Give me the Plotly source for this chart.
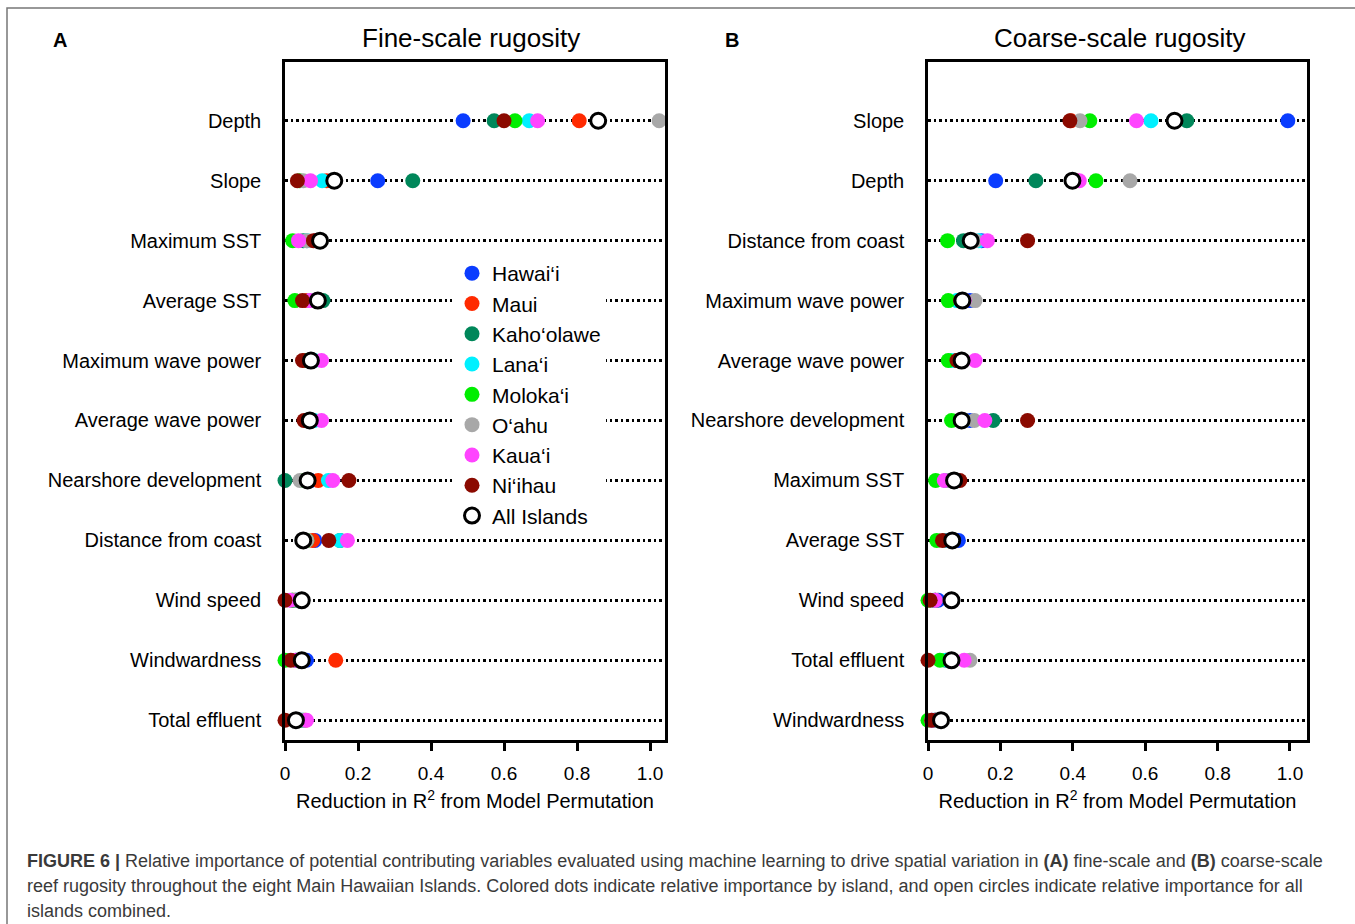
import plotly.graph_objects as go

islands = ["Hawai‘i", "Maui", "Kaho‘olawe", "Lana‘i", "Moloka‘i", "O‘ahu", "Kaua‘i", "Ni‘ihau", "All Islands"]
colors = ["#0a3cff", "#ff2a00", "#00875a", "#00f0ff", "#00ee00", "#a8a8a8", "#ff44ff", "#8b0a00", "#000000"]

fine_vars = ["Depth", "Slope", "Maximum SST", "Average SST", "Maximum wave power",
             "Average wave power", "Nearshore development", "Distance from coast",
             "Wind speed", "Windwardness", "Total effluent"]
fine_hawaii    = [0.488, 0.254, 0.085, 0.080, 0.060, 0.065, 0.070, 0.082, 0.030, 0.059, 0.045]
fine_maui      = [0.806, 0.114, 0.085, 0.060, 0.055, 0.060, 0.091, 0.076, 0.025, 0.139, 0.055]
fine_kahoolawe = [0.573, 0.350, 0.050, 0.104, 0.060, 0.060, 0.000, 0.151, 0.020, 0.030, 0.040]
fine_lanai     = [0.669, 0.102, 0.060, 0.070, 0.080, 0.080, 0.119, 0.150, 0.030, 0.040, 0.050]
fine_molokai   = [0.630, 0.040, 0.021, 0.027, 0.065, 0.070, 0.050, 0.060, 0.020, 0.000, 0.040]
fine_oahu      = [1.025, 0.050, 0.060, 0.070, 0.070, 0.070, 0.041, 0.060, 0.030, 0.040, 0.050]
fine_kauai     = [0.692, 0.070, 0.037, 0.068, 0.100, 0.100, 0.131, 0.171, 0.014, 0.030, 0.059]
fine_niihau    = [0.600, 0.034, 0.078, 0.048, 0.048, 0.052, 0.175, 0.120, 0.000, 0.016, 0.000]
fine_all       = [0.858, 0.135, 0.096, 0.090, 0.071, 0.068, 0.062, 0.050, 0.046, 0.046, 0.030]

coarse_vars = ["Slope", "Depth", "Distance from coast", "Maximum wave power",
               "Average wave power", "Nearshore development", "Maximum SST",
               "Average SST", "Wind speed", "Total effluent", "Windwardness"]
coarse_hawaii    = [0.994, 0.187, 0.148, 0.116, 0.080, 0.116, 0.060, 0.084, 0.028, 0.060, 0.020]
coarse_maui      = [0.395, 0.410, 0.120, 0.090, 0.080, 0.100, 0.060, 0.050, 0.020, 0.050, 0.020]
coarse_kahoolawe = [0.715, 0.298, 0.098, 0.090, 0.080, 0.180, 0.050, 0.060, 0.020, 0.060, 0.020]
coarse_lanai     = [0.616, 0.405, 0.140, 0.080, 0.065, 0.100, 0.050, 0.050, 0.015, 0.050, 0.015]
coarse_molokai   = [0.447, 0.464, 0.054, 0.056, 0.056, 0.065, 0.021, 0.024, 0.000, 0.033, 0.000]
coarse_oahu      = [0.420, 0.558, 0.130, 0.130, 0.090, 0.128, 0.055, 0.060, 0.020, 0.116, 0.020]
coarse_kauai     = [0.576, 0.418, 0.164, 0.100, 0.130, 0.157, 0.045, 0.060, 0.020, 0.100, 0.010]
coarse_niihau    = [0.392, 0.400, 0.275, 0.090, 0.080, 0.275, 0.088, 0.040, 0.006, 0.000, 0.010]
coarse_all       = [0.681, 0.399, 0.118, 0.095, 0.093, 0.093, 0.072, 0.067, 0.065, 0.065, 0.036]

tick_vals = [0, 0.2, 0.4, 0.6, 0.8, 1.0]
tick_text = ["0", "0.2", "0.4", "0.6", "0.8", "1.0"]

fine_series = [fine_hawaii, fine_maui, fine_kahoolawe, fine_lanai, fine_molokai,
               fine_oahu, fine_kauai, fine_niihau, fine_all]
coarse_series = [coarse_hawaii, coarse_maui, coarse_kahoolawe, coarse_lanai, coarse_molokai,
                 coarse_oahu, coarse_kauai, coarse_niihau, coarse_all]

FONT = "Liberation Sans, Arial, Helvetica, sans-serif"
W, H = 1355, 924

fig = go.Figure()

def add_panel(series, cats, xa, ya, showleg):
    for name, col, vals in zip(islands, colors, series):
        if name == "All Islands":
            marker = dict(size=15, color="white", line=dict(color="black", width=3))
        else:
            marker = dict(size=15, color=col, line=dict(width=0))
        fig.add_trace(go.Scatter(
            x=vals, y=cats, mode="markers", name=name, marker=marker,
            xaxis=xa, yaxis=ya, showlegend=showleg, cliponaxis=False))

add_panel(fine_series, fine_vars, "x", "y", True)
add_panel(coarse_series, coarse_vars, "x2", "y2", False)

def px_x(p):
    return p / W

def px_y(p):
    return 1 - p / H

ydom = [px_y(740), px_y(62)]

xcommon = dict(showline=True, mirror=True, linecolor="black", linewidth=2.5,
               ticks="outside", ticklen=8, tickwidth=2.5, tickcolor="black",
               tickvals=tick_vals, ticktext=tick_text, showgrid=False, zeroline=False,
               ticklabelstandoff=6,
               tickfont=dict(size=19, color="black", family=FONT),
               title=dict(text="Reduction in R<sup>2</sup> from Model Permutation",
                          font=dict(size=20, color="black", family=FONT), standoff=12))
ycommon = dict(type="category", showline=True, mirror=True, linecolor="black", linewidth=2.5,
               ticks="", showgrid=True, gridcolor="black", gridwidth=2.5,
               griddash="2.5px,3px", zeroline=False, range=[10.33, -0.98],
               ticklabelstandoff=17,
               tickfont=dict(size=20, color="black", family=FONT))

fig.update_layout(
    width=W, height=H,
    margin=dict(l=0, r=0, t=0, b=0, autoexpand=False),
    paper_bgcolor="white", plot_bgcolor="white",
    font=dict(family=FONT, color="black"),
    xaxis=dict(domain=[px_x(285), px_x(665)], range=[0, 1.041], anchor="y", **xcommon),
    yaxis=dict(domain=ydom, anchor="x", categoryorder="array", categoryarray=fine_vars, **ycommon),
    xaxis2=dict(domain=[px_x(928), px_x(1307)], range=[0, 1.047], anchor="y2", **xcommon),
    yaxis2=dict(domain=ydom, anchor="x2", categoryorder="array", categoryarray=coarse_vars, **ycommon),
    legend=dict(x=px_x(452), y=px_y(253), xanchor="left", yanchor="top",
                bgcolor="white", borderwidth=0, font=dict(size=21, family=FONT, color="black"),
                itemsizing="trace", tracegroupgap=0, itemwidth=30),
    showlegend=True,
)

annots = [
    dict(text="Fine-scale rugosity", x=px_x(471), y=px_y(38), size=26),
    dict(text="Coarse-scale rugosity", x=px_x(1119), y=px_y(38), size=26),
    dict(text="<b>A</b>", x=px_x(60), y=px_y(40), size=20),
    dict(text="<b>B</b>", x=px_x(732), y=px_y(40), size=20),
]
for a in annots:
    fig.add_annotation(xref="paper", yref="paper", showarrow=False,
                       xanchor="center", yanchor="middle",
                       x=a["x"], y=a["y"], text=a["text"],
                       font=dict(family=FONT, color="black", size=a["size"]))

caption = [
    "<b>FIGURE 6 |</b> Relative importance of potential contributing variables evaluated using machine learning to drive spatial variation in <b>(A)</b> fine-scale and <b>(B)</b> coarse-scale",
    "reef rugosity throughout the eight Main Hawaiian Islands. Colored dots indicate relative importance by island, and open circles indicate relative importance for all",
    "islands combined.",
]
for i, line in enumerate(caption):
    fig.add_annotation(xref="paper", yref="paper", showarrow=False,
                       xanchor="left", yanchor="middle",
                       x=px_x(25), y=px_y(861 + 25 * i), text=line,
                       font=dict(family=FONT, color="#3a3a3a", size=18))

fig.add_shape(type="rect", xref="paper", yref="paper",
              x0=px_x(7), x1=1.05, y0=-0.05, y1=px_y(8),
              line=dict(color="#777777", width=1.5), fillcolor="rgba(0,0,0,0)", layer="below")

fig.write_html("out.html")
